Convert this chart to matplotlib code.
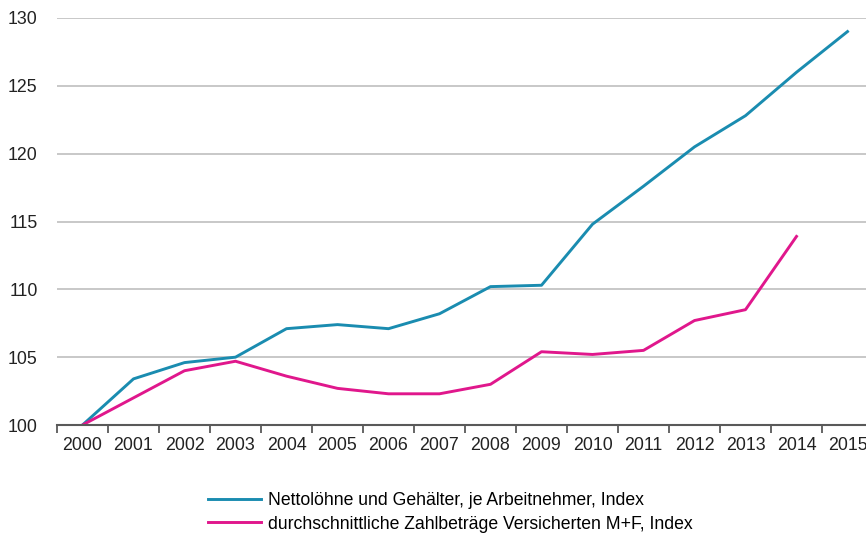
import matplotlib
matplotlib.use("Agg")
import matplotlib.pyplot as plt
from matplotlib.ticker import FixedLocator

plt.rcParams['font.family'] = ['Liberation Sans', 'DejaVu Sans']

years = ["2000", "2001", "2002", "2003", "2004", "2005", "2006", "2007",
         "2008", "2009", "2010", "2011", "2012", "2013", "2014", "2015"]
netto = [100.0, 103.4, 104.6, 105.0, 107.1, 107.4, 107.1, 108.2,
         110.2, 110.3, 114.8, 117.6, 120.5, 122.8, 126.0, 129.0]
zahlbetraege = [100.0, 102.0, 104.0, 104.7, 103.6, 102.7, 102.3, 102.3,
                103.0, 105.4, 105.2, 105.5, 107.7, 108.5, 113.9]
label_netto = "Nettolöhne und Gehälter, je Arbeitnehmer, Index"
label_zahl = "durchschnittliche Zahlbeträge Versicherten M+F, Index"
yticks = [100, 105, 110, 115, 120, 125, 130]

fig = plt.figure(figsize=(8.66, 5.33), dpi=100)
ax = fig.add_axes([57/866, 1 - 425/533, (866 - 57)/866, (425 - 18)/533])

x1 = list(range(len(netto)))
x2 = list(range(len(zahlbetraege)))
ax.plot(x1, netto, color="#1A8CB0", lw=2.1, label=label_netto, solid_joinstyle="round")
ax.plot(x2, zahlbetraege, color="#E0178C", lw=2.1, label=label_zahl, solid_joinstyle="round")

ax.set_ylim(100, 130)
ax.set_xlim(-0.5, -0.5 + (866 - 57) / 51.0)
ax.set_yticks(yticks)
ax.set_yticklabels([str(v) for v in yticks], fontsize=12.8, color="#222222")
ax.tick_params(axis='y', length=0, pad=14)
ax.yaxis.grid(True, color="#BFBFBF", lw=1.2)
ax.set_axisbelow(True)

ax.set_xticks(range(len(years)))
ax.set_xticklabels(years, fontsize=12.8, color="#222222")
ax.xaxis.set_minor_locator(FixedLocator([i - 0.5 for i in range(len(years) + 1)]))
ax.tick_params(axis='x', which='major', length=0, pad=9)
ax.tick_params(axis='x', which='minor', length=6, width=1.3, color="#595959", direction='out')

for s in ['top', 'right', 'left']:
    ax.spines[s].set_visible(False)
ax.spines['bottom'].set_color("#595959")
ax.spines['bottom'].set_linewidth(1.5)

fig.legend(loc='upper left', bbox_to_anchor=(208/866, 1 - 492/533), frameon=False,
           fontsize=12.7, handlelength=3.0, handletextpad=0.4, labelspacing=0.37,
           borderpad=0, borderaxespad=0)

fig.savefig("out.png", dpi=100)
